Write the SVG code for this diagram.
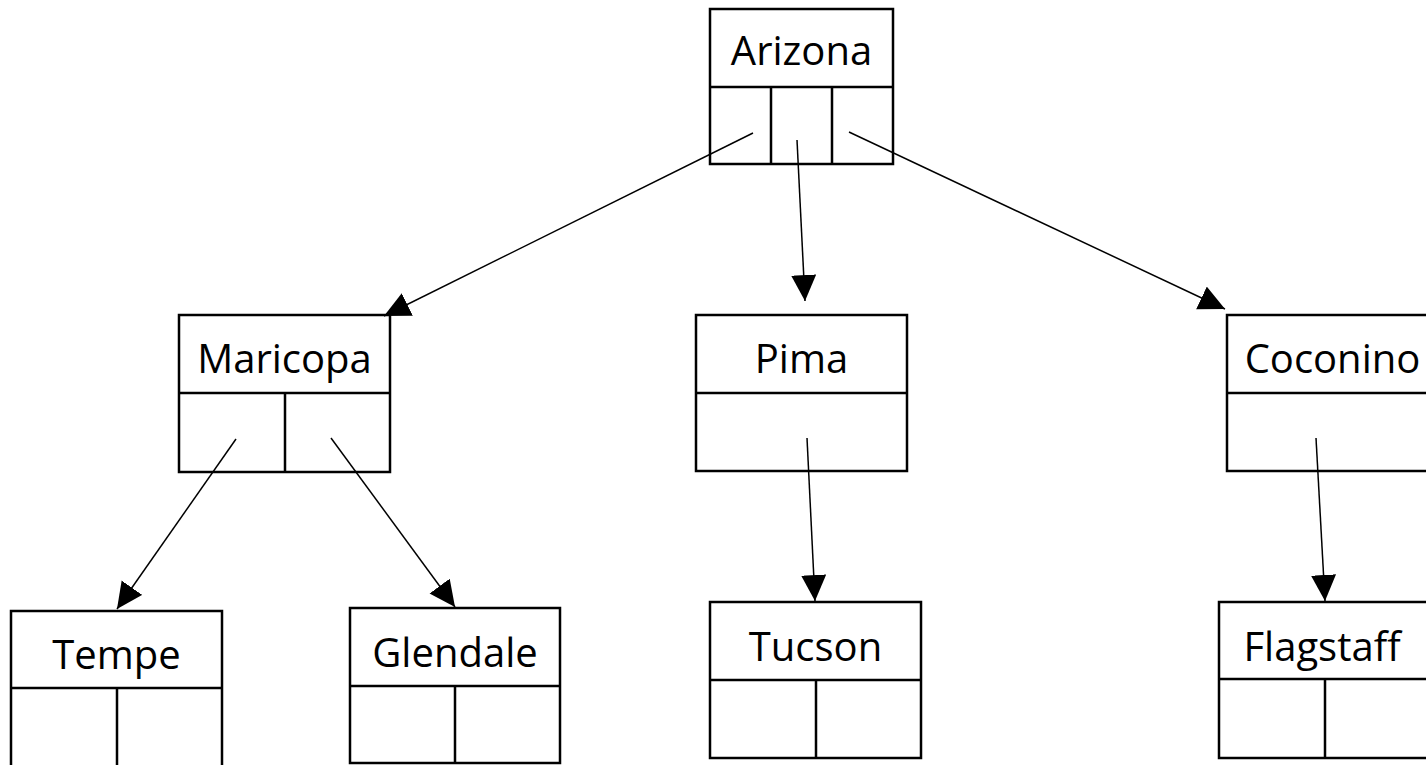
<svg xmlns="http://www.w3.org/2000/svg" width="1426" height="765" viewBox="0 0 1426 765">
<style>
.box{fill:#fff;stroke:#000;stroke-width:2.5}
.div{stroke:#000;stroke-width:2.5;fill:none}
.lbl{font-family:"Open Sans","Liberation Sans",sans-serif;font-size:40px;fill:#000;text-anchor:middle}
.edge{stroke:#000;stroke-width:1.5;fill:none;marker-end:url(#arr)}
</style>
<defs>
<marker id="arr" markerUnits="userSpaceOnUse" markerWidth="28" markerHeight="26" refX="26" refY="12.5" orient="auto" viewBox="0 0 28 26">
<path d="M0,0 L26,12.5 L0,25 Z" fill="#000"/>
</marker>
</defs>
<rect width="1426" height="765" fill="#fff"/>
<g id="arizona">
<rect class="box" x="710" y="9" width="183" height="155"/>
<path class="div" d="M710,87 H893 M771,87 V164 M832,87 V164"/>
<text class="lbl" x="801.5" y="65">Arizona</text>
</g>
<g id="maricopa">
<rect class="box" x="179" y="315" width="211" height="157"/>
<path class="div" d="M179,393 H390 M285,393 V472"/>
<text class="lbl" x="284.5" y="373">Maricopa</text>
</g>
<g id="pima">
<rect class="box" x="696" y="315" width="211" height="156"/>
<path class="div" d="M696,393 H907"/>
<text class="lbl" x="801.5" y="373">Pima</text>
</g>
<g id="coconino">
<rect class="box" x="1227" y="315" width="211" height="156"/>
<path class="div" d="M1227,393 H1438"/>
<text class="lbl" x="1332.5" y="373">Coconino</text>
</g>
<g id="tempe">
<rect class="box" x="11" y="611" width="211" height="160"/>
<path class="div" d="M11,688 H222 M117,688 V771"/>
<text class="lbl" x="116.5" y="669">Tempe</text>
</g>
<g id="glendale">
<rect class="box" x="350" y="608" width="210" height="155"/>
<path class="div" d="M350,686 H560 M455,686 V763"/>
<text class="lbl" x="455" y="667">Glendale</text>
</g>
<g id="tucson">
<rect class="box" x="710" y="602" width="211" height="156"/>
<path class="div" d="M710,680 H921 M816,680 V758"/>
<text class="lbl" x="815.5" y="661">Tucson</text>
</g>
<g id="flagstaff">
<rect class="box" x="1219" y="602" width="211" height="156"/>
<path class="div" d="M1219,679 H1430 M1325,679 V758"/>
<text class="lbl" x="1322" y="661">Flagstaff</text>
</g>
<g id="connectors">
<line class="edge" x1="753" y1="133" x2="384" y2="316"/>
<line class="edge" x1="797" y1="140" x2="805" y2="301"/>
<line class="edge" x1="849" y1="132" x2="1225" y2="309"/>
<line class="edge" x1="236" y1="439" x2="117" y2="609"/>
<line class="edge" x1="331" y1="438" x2="455" y2="607"/>
<line class="edge" x1="807" y1="438" x2="815" y2="601"/>
<line class="edge" x1="1316" y1="438" x2="1325" y2="601"/>
</g>
</svg>
